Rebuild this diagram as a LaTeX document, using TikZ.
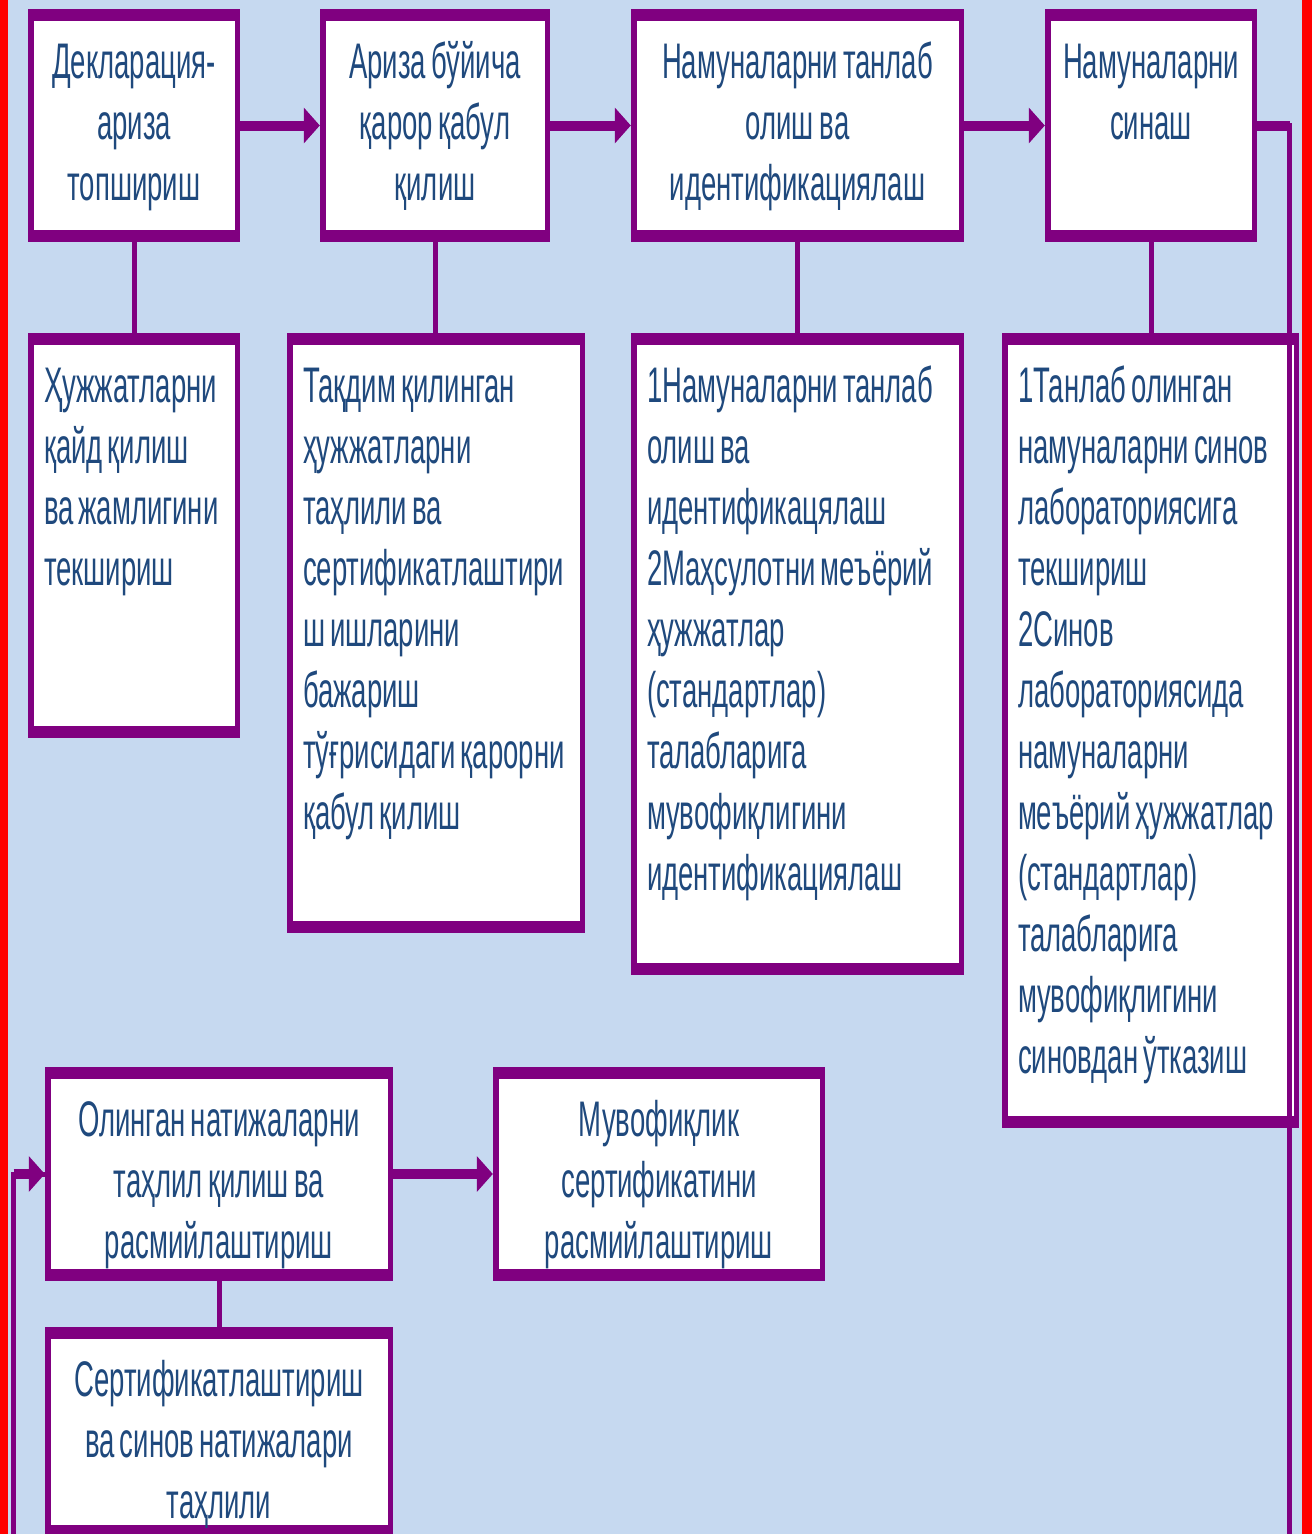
\documentclass[tikz,border=0pt]{standalone}
\usepackage{fontspec}
\newfontfamily\boxfont[FakeStretch=0.55]{Liberation Sans}
\usetikzlibrary{arrows.meta}
\definecolor{purp}{RGB}{128,0,128}
\definecolor{bgblue}{RGB}{198,217,240}
\definecolor{txtblue}{RGB}{31,73,125}
\definecolor{frame}{RGB}{255,0,0}
\newcommand{\nodefont}{\boxfont\fontsize{50}{61}\selectfont}

\begin{document}
\begin{tikzpicture}[x=1pt, y=-1pt,
  box/.style={fill=purp, text=txtblue, inner xsep=16pt, inner ysep=33pt, text height=36pt,
    font=\nodefont, execute at begin node={\spaceskip=5pt plus 1pt minus 1pt\relax},
    path picture={\fill[white] ([shift={(5.5pt,-12pt)}]path picture bounding box.north west)
      rectangle ([shift={(-5.5pt,12pt)}]path picture bounding box.south east);}},
  cbox/.style={box, align=center},
  lbox/.style={box, align=left},
  link/.style={draw=purp, line width=5pt},
  hlink/.style={draw=purp, line width=10pt},
  arrow/.style={hlink, -{Triangle[length=16pt, width=35pt]}}]
  \useasboundingbox (0,0) rectangle (1312,1534);
  \fill[bgblue] (8,0) rectangle (1302,1534);
  \fill[frame] (0,0) rectangle (8,1534);
  \fill[frame] (1302,0) rectangle (1312,1534);

  % Top row
  \node[cbox, text width=180pt, text depth=131pt] (decl) at (134,125.5) {Декларация-\\ариза\\топшириш};
  \node[cbox, text width=198pt, text depth=131pt] (ariza) at (435,125.5) {Ариза бўйича\\қарор қабул\\қилиш};
  \node[cbox, text width=301pt, text depth=131pt] (namsel) at (797.5,125.5) {Намуналарни танлаб\\олиш ва\\идентификациялаш};
  \node[cbox, text width=180pt, text depth=131pt] (namtest) at (1151,125.5) {Намуналарни\\синаш};

  % Details
  \node[lbox, text width=180pt, text depth=303pt] (reg) at (134,535.5) {Ҳужжатларни\\қайд қилиш\\ва жамлигини\\текшириш};
  \node[lbox, text width=266pt, text depth=498pt] (anal) at (436,633) {Тақдим қилинган\\ҳужжатларни\\таҳлили ва\\сертификатлаштири\\ш ишларини\\бажариш\\тўғрисидаги қарорни\\қабул қилиш};
  \node[lbox, text width=301pt, text depth=540pt] (ident) at (797.5,654) {1Намуналарни танлаб\\олиш ва\\идентификацялаш\\2Маҳсулотни меъёрий\\ҳужжатлар\\(стандартлар)\\талабларига\\мувофиқлигини\\идентификациялаш};
  \node[lbox, text width=265pt, text depth=693pt] (lab) at (1150.5,730.5) {1Танлаб олинган\\намуналарни синов\\лабораториясига\\текшириш\\2Синов\\лабораториясида\\намуналарни\\меъёрий ҳужжатлар\\(стандартлар)\\талабларига\\мувофиқлигини\\синовдан ўтказиш};

  % Bottom row
  \node[cbox, text width=316pt, text depth=112pt] (olingan) at (219,1174) {Олинган натижаларни\\таҳлил қилиш ва\\расмийлаштириш};
  \node[cbox, text width=300pt, text depth=112pt] (muvof) at (659,1174) {Мувофиқлик\\сертификатини\\расмийлаштириш};
  \node[cbox, text width=316pt, text depth=108pt] (sert) at (219,1432) {Сертификатлаштириш\\ва синов натижалари\\таҳлили};

  % Arrows
  \draw[arrow] (decl) -- (ariza);
  \draw[arrow] (ariza) -- (namsel);
  \draw[arrow] (namsel) -- (namtest);
  \draw[arrow] (olingan) -- (muvof);
  % Links
  \draw[link] (decl) -- (decl |- reg.north);
  \draw[link] (ariza) -- (ariza |- anal.north);
  \draw[link] (namsel) -- (namsel |- ident.north);
  \draw[link] (namtest) -- (namtest |- lab.north);
  \draw[link] (olingan) -- (olingan |- sert.north);
  % Feedback
  \coordinate (backR) at (1289.5,1570);
  \coordinate (backL) at (13.5,1570);
  \draw[link] (namtest.east) -| (backR) -- (backL) |- (olingan.west);
  \draw[hlink] (namtest.east) -- (namtest.east -| backR);
  \draw[arrow] (backL |- olingan.west) -- (olingan.west);
\end{tikzpicture}
\end{document}
